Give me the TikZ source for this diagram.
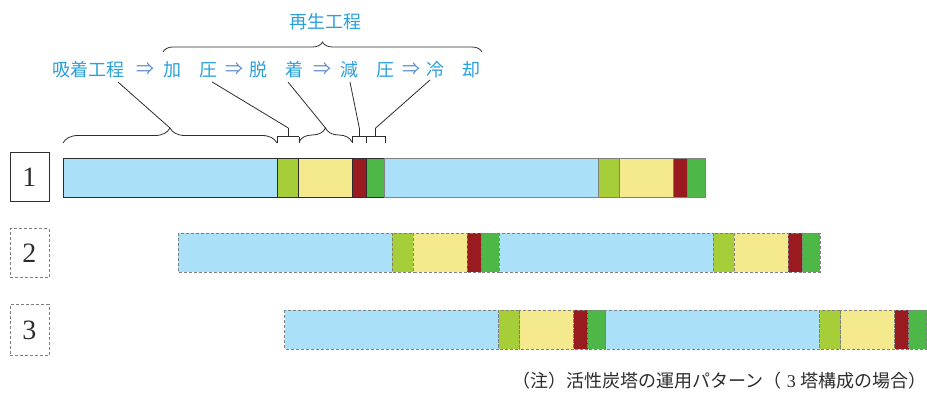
\documentclass[tikz,border=0pt]{standalone}
\usepackage{fontspec}
\setmainfont{Liberation Serif}
\newfontfamily\jpfont{Noto Sans CJK JP}
\usetikzlibrary{decorations.pathreplacing}
\definecolor{stepblue}{RGB}{41,160,218}
\definecolor{arrowblue}{RGB}{92,140,208}
\definecolor{adsorbcol}{RGB}{171,224,249}
\definecolor{presscol}{RGB}{166,206,57}
\definecolor{desorbcol}{RGB}{245,233,142}
\definecolor{depresscol}{RGB}{154,27,31}
\definecolor{coolcol}{RGB}{77,184,72}
\definecolor{edgegray}{RGB}{128,128,128}
\definecolor{edgedark}{RGB}{45,45,45}
\begin{document}
\begin{tikzpicture}[x=1pt,y=-1pt]

      \tikzset{steplabel/.style={text=stepblue, font=\jpfont\fontsize{18}{20}\selectfont, inner sep=2pt},
               implies/.style={text=arrowblue, font=\jpfont\fontsize{18}{20}\selectfont, inner sep=2pt},
               towerbox/.style={minimum width=39pt, minimum height=49pt, inner sep=0pt, line width=1pt, text=edgedark, font=\fontsize{28}{30}\selectfont},
               darkbar/.style={draw=edgedark, line width=1pt},
               graybar/.style={draw=edgegray, line width=1pt},
               dashbar/.style={draw=edgegray, line width=1pt, dash pattern=on 3pt off 2pt},
               leader/.style={draw=edgedark, line width=0.8pt},
               bracebar/.style={leader, decorate, decoration={brace, amplitude=#1}}}
      \useasboundingbox (0,0) rectangle (927,394);
%% Step labels
      	\node[steplabel] (regen) at (325,22) {再生工程};
      	\node[steplabel] (adsorb) at (88.5,69.5) {吸着工程};
      	\node[implies] (then1) at (145,69.5) {⇒};
      	\node[steplabel] (press) at (190,69.5) {加　圧};
      	\node[implies] (then2) at (234.5,69.5) {⇒};
      	\node[steplabel] (desorb) at (276,69.5) {脱　着};
      	\node[implies] (then3) at (322.5,69.5) {⇒};
      	\node[steplabel] (depress) at (367.5,69.5) {減　圧};
      	\node[implies] (then4) at (411,69.5) {⇒};
      	\node[steplabel] (cool) at (453,69.5) {冷　却};
%% Towers
      	\node[towerbox, draw=edgedark] (tower1) at (29.5,177) {1};
      	\node[towerbox, draw=edgegray, dash pattern=on 3pt off 2pt] (tower2) at (29.5,253) {2};
      	\node[towerbox, draw=edgegray, dash pattern=on 3pt off 2pt, minimum height=51pt] (tower3) at (29.5,330) {3};
%% Bars
		\foreach \start/\top/\look in {63/158/darkbar, 384/158/graybar, 178.3/233.3/dashbar, 499.3/233.3/dashbar, 284.5/310/dashbar, 605.5/310/dashbar}
		  \foreach \a/\w/\col in {0/214/adsorbcol, 214/21/presscol, 235/54/desorbcol, 289/14/depresscol, 303/18/coolcol}
		    \draw[\look, fill=\col] (\start+\a,\top) rectangle ++(\w,39);
%% Braces
		\draw[bracebar=10pt] (163,52) -- (482,52);
		\draw[bracebar=15pt] (63,143) -- (277,143);
		\draw[bracebar=14pt] (299,142) -- (352,142);
		\draw[leader] (277.5,143) |- (299,136.5);
		\draw[leader] (299,136.5) -- (299,143);
		\draw[leader] (352,143) |- (385,136.5) -- (385,143);
		\draw[leader] (366.7,136.5) -- (366.7,143);
		\coordinate (adsorbTip) at (170,128);
		\coordinate (pressTip) at (288.3,128);
		\coordinate (desorbTip) at (325.5,128);
		\coordinate (depressTip) at (359.3,128);
		\coordinate (coolTip) at (375.7,128);
		\draw[leader] (pressTip) -- ++(0,8.5);
		\draw[leader] (depressTip) -- ++(0,8.5);
		\draw[leader] (coolTip) -- ++(0,8.5);
%Leaders
		\draw[leader] ([xshift=29.5pt,yshift=-2pt]adsorb.south) -- (adsorbTip);
		\draw[leader] ([xshift=22pt,yshift=-2pt]press.south) -- (pressTip);
		\draw[leader] ([xshift=12pt,yshift=-2pt]desorb.south) -- (desorbTip);
		\draw[leader] ([xshift=-17.5pt,yshift=-2pt]depress.south) -- (depressTip);
		\draw[leader] ([xshift=-23pt]cool.south) -- (coolTip);
%% Note
		\node[anchor=east, inner sep=0pt, text=edgedark, font=\jpfont\fontsize{18}{20}\selectfont] (note) at (927,381) {（注）活性炭塔の運用パターン（\hspace{5pt}{\rmfamily 3}\hspace{5pt}塔構成の場合）};

	\end{tikzpicture}
\end{document}
